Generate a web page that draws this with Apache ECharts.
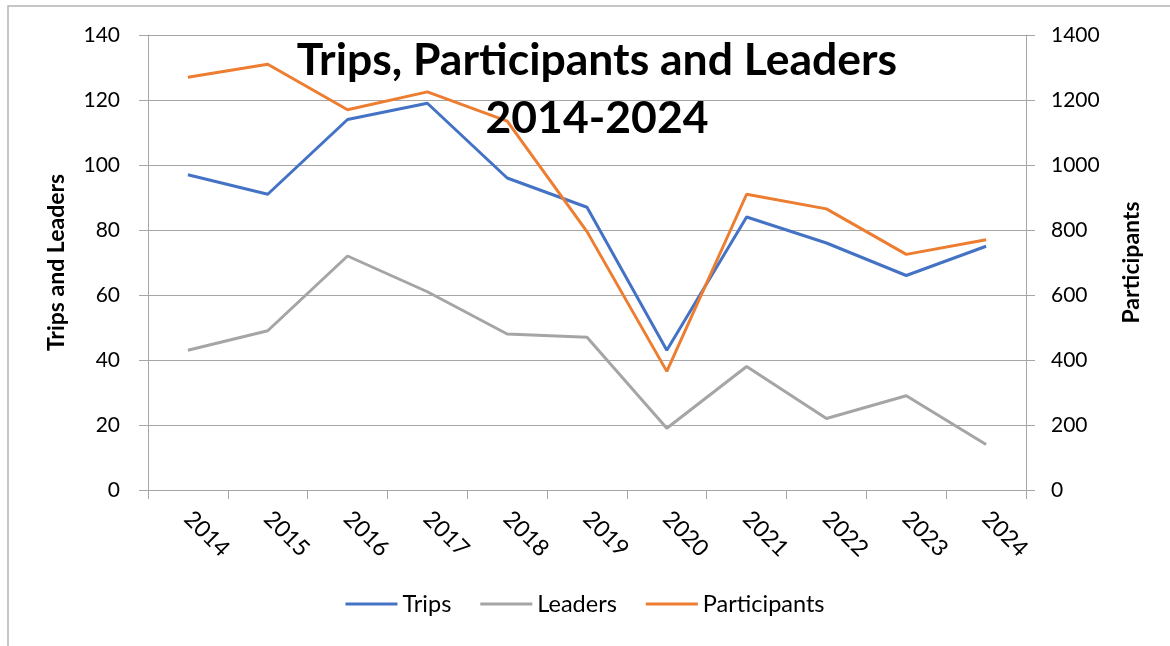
<!DOCTYPE html>
<html>
<head>
<meta charset="utf-8">
<title>Trips, Participants and Leaders</title>
<script src="https://cdn.jsdelivr.net/npm/echarts@6/dist/echarts.min.js"></script>
<style>
  html, body { margin: 0; padding: 0; background: #fff; }
  #chart { width: 1170px; height: 646px; }
</style>
</head>
<body>
<div id="chart"></div>
<script>
// data
const years = ['2014', '2015', '2016', '2017', '2018', '2019', '2020', '2021', '2022', '2023', '2024']
const trips = [97, 91, 114, 119, 96, 87, 43, 84, 76, 66, 75]
const leaders = [43, 49, 72, 61, 48, 47, 19, 38, 22, 29, 14]
const participants = [1270, 1310, 1170, 1225, 1135, 795, 365, 910, 865, 725, 770]

const font = 'Lato, "Open Sans", sans-serif'
const gridColor = '#a6a6a6'

const chart = echarts.init(document.getElementById('chart'))

const lineSeries = (name, data, color, axisIdx) => ({
  name,
  type: 'line',
  data,
  yAxisIndex: axisIdx,
  symbol: 'none',
  lineStyle: { color, width: 3 },
  itemStyle: { color },
  emphasis: { disabled: true }
})

chart.setOption({
  animation: false,
  title: {
    text: 'Trips, Participants and Leaders\n2014-2024',
    left: 592,
    top: 27,
    textAlign: 'center',
    textStyle: {
      fontFamily: font,
      fontWeight: 'bold',
      fontSize: 44.5,
      lineHeight: 58,
      color: '#000'
    }
  },
  graphic: [{
    type: 'rect',
    shape: { x: 8, y: 6, width: 1300, height: 800 },
    style: { fill: null, stroke: '#b4b4b4', lineWidth: 1.5 },
    silent: true
  }],
  legend: {
    bottom: 25,
    left: 'center',
    itemWidth: 52,
    itemHeight: 3,
    itemGap: 29,
    icon: 'rect',
    textStyle: { fontFamily: font, fontSize: 23.5, color: '#000' },
    data: ['Trips', 'Leaders', 'Participants']
  },
  grid: { left: 148, right: 144, top: 35, bottom: 156 },
  xAxis: {
    type: 'category',
    data: years,
    boundaryGap: true,
    axisLine: { lineStyle: { color: gridColor } },
    axisTick: { show: true, length: 9, lineStyle: { color: gridColor } },
    axisLabel: {
      rotate: -45,
      margin: 25,
      fontFamily: font,
      fontSize: 23,
      color: '#000'
    }
  },
  yAxis: [{
    type: 'value',
    min: 0,
    max: 140,
    interval: 20,
    name: 'Trips and Leaders',
    nameLocation: 'middle',
    nameGap: 80,
    nameTextStyle: { fontFamily: font, fontWeight: 'bold', fontSize: 23, color: '#000' },
    axisLine: { show: true, lineStyle: { color: gridColor } },
    axisTick: { show: true, length: 9, lineStyle: { color: gridColor } },
    splitLine: { lineStyle: { color: gridColor } },
    axisLabel: { fontFamily: font, fontSize: 21, color: '#000', margin: 28 }
  }, {
    type: 'value',
    min: 0,
    max: 1400,
    interval: 200,
    name: 'Participants',
    nameLocation: 'middle',
    nameGap: 94,
    nameTextStyle: { fontFamily: font, fontWeight: 'bold', fontSize: 23, color: '#000' },
    axisLine: { show: true, lineStyle: { color: gridColor } },
    axisTick: { show: true, length: 9, lineStyle: { color: gridColor } },
    splitLine: { show: false },
    axisLabel: {
      fontFamily: font,
      fontSize: 21,
      color: '#000',
      margin: 25,
      formatter: v => String(v)
    }
  }],
  series: [
    lineSeries('Trips', trips, '#4472c4', 0),
    lineSeries('Leaders', leaders, '#a5a5a5', 0),
    lineSeries('Participants', participants, '#ed7d31', 1)
  ]
})
</script>
</body>
</html>
